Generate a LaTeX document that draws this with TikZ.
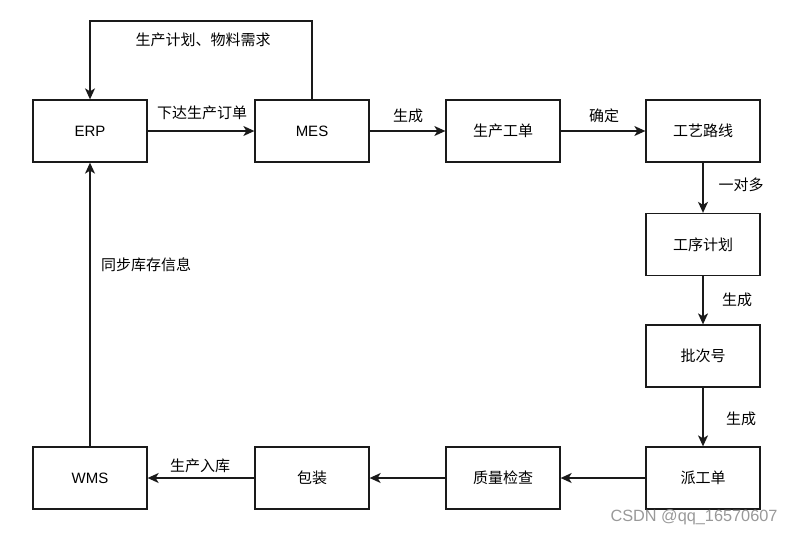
\documentclass[tikz,border=0pt]{standalone}
\usepackage{fontspec}
\setmainfont{Liberation Sans}
\newfontfamily\cjk{Noto Sans CJK SC}
\usetikzlibrary{arrows.meta}
\definecolor{ln}{HTML}{1A1A1A}
\begin{document}
\begin{tikzpicture}[x=1pt,y=-1pt,
  box/.style={draw=ln,line width=1.3pt,minimum width=114pt,minimum height=62pt,inner sep=0pt,font=\fontsize{15pt}{17pt}\selectfont\cjk},
  conn/.style={draw=ln,line width=1.3pt,-{Stealth[length=11pt,width=10pt,inset=3pt]}},
  lbl/.style={font=\fontsize{15pt}{17pt}\selectfont\cjk,inner sep=0pt}]
\useasboundingbox (0,0) rectangle (794,535);
\node[box] (erp) at (90,131) {\rmfamily ERP};
\node[box] (mes) at (312,131) {\rmfamily MES};
\node[box] (gd) at (503,131) {生产工单};
\node[box] (gy) at (703,131) {工艺路线};
\node[box] (gx) at (703,244.5) {工序计划};
\node[box] (pc) at (703,356) {批次号};
\node[box] (pg) at (703,478) {派工单};
\node[box] (zl) at (503,478) {质量检查};
\node[box] (bz) at (312,478) {包装};
\node[box] (wms) at (90,478) {\rmfamily WMS};
\coordinate (c1) at (312,21);
\coordinate (c2) at (90,21);
\draw[conn] (mes.north) -- (c1) -- (c2) -- (erp.north);
\draw[conn] (erp) -- (mes);
\draw[conn] (mes) -- (gd);
\draw[conn] (gd) -- (gy);
\draw[conn] (gy) -- (gx);
\draw[conn] (gx) -- (pc);
\draw[conn] (pc) -- (pg);
\draw[conn] (pg) -- (zl);
\draw[conn] (zl) -- (bz);
\draw[conn] (bz) -- (wms);
\draw[conn] (wms) -- (erp);
\node[lbl] (l1) at (203,40) {生产计划、物料需求};
\node[lbl] (l2) at (202,113) {下达生产订单};
\node[lbl] (l3) at (408,116) {生成};
\node[lbl] (l4) at (604,116) {确定};
\node[lbl] (l5) at (741,185) {一对多};
\node[lbl] (l6) at (737,300) {生成};
\node[lbl] (l7) at (741,419) {生成};
\node[lbl] (l8) at (200,466) {生产入库};
\node[lbl] (l9) at (146,265) {同步库存信息};
\node[font=\fontsize{16.3pt}{18pt}\selectfont,text=black!40,inner sep=0pt] (wm) at (694,517) {CSDN @qq\_16570607};
\end{tikzpicture}
\end{document}
